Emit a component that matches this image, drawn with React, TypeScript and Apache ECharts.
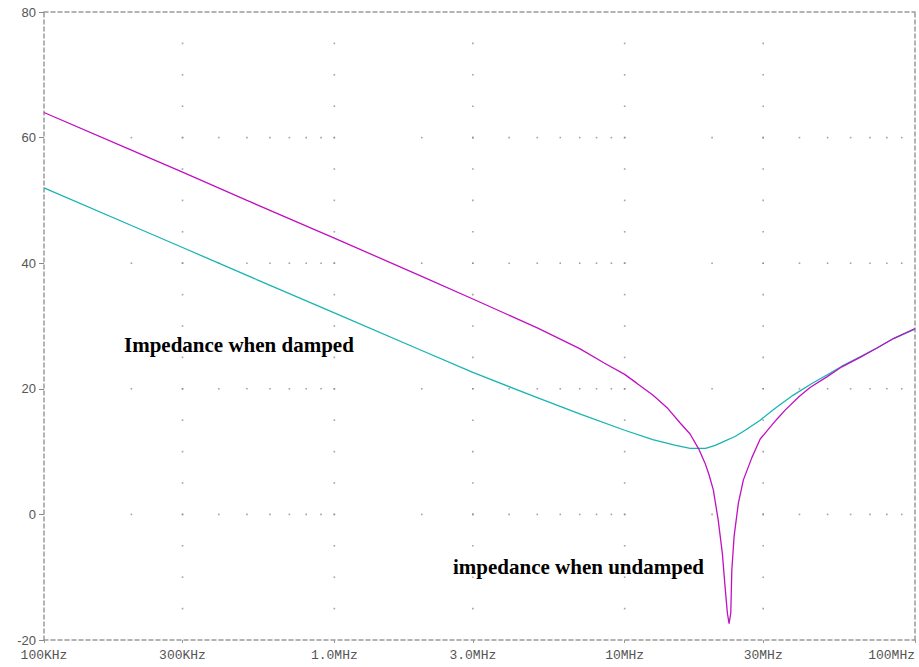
import React, { useEffect, useRef } from "react";
import * as echarts from "echarts";

// Axis ticks
const freqTicks = [1e5, 3e5, 1e6, 3e6, 1e7, 3e7, 1e8];
const freqTickLabels = ["100KHz", "300KHz", "1.0MHz", "3.0MHz", "10MHz", "30MHz", "100MHz"];
const yMin = -20;
const yMax = 80;
const yInterval = 20;

// Grid dot structure
const gridRowLevels = [0, 20, 40, 60];
const gridColFreqs = [3e5, 1e6, 3e6, 1e7, 3e7];
const gridColStep = 5;
const decades = [1e5, 1e6, 1e7];
const minorMultipliers = [2, 3, 4, 5, 6, 7, 8, 9, 10];

// Undamped impedance (dB) vs frequency (Hz)
const undampedFreq = [
  1e5, 2e5, 3e5, 5e5, 1e6, 2e6, 3e6, 5e6, 7e6, 8.5e6, 1e7, 1.1e7, 1.25e7, 1.4e7,
  1.55e7, 1.68e7, 1.8e7, 1.89e7, 1.95e7, 2.02e7, 2.1e7, 2.17e7, 2.217e7, 2.258e7,
  2.289e7, 2.32e7, 2.339e7, 2.382e7, 2.464e7, 2.564e7, 2.74e7, 2.84e7, 2.93e7,
  3.17e7, 3.35e7, 3.57e7, 4.0e7, 4.35e7, 4.97e7, 5.6e7, 6.47e7, 7.4e7, 8.43e7, 1e8,
];
const undampedDb = [
  64.0, 58.0, 54.5, 50.0, 44.0, 37.9, 34.3, 29.7, 26.4, 24.1, 22.3, 20.9, 19.0, 17.0,
  14.6, 12.8, 10.4, 8.2, 6.4, 3.9, -0.9, -6.2, -11.5, -15.7,
  -17.4, -15.7, -8.9, -3.5, 1.8, 5.5, 9.0, 10.6, 12.0,
  13.9, 15.2, 16.6, 18.8, 20.2, 21.9, 23.5, 25.0, 26.5, 28.0, 29.6,
];

// Damped impedance (dB) vs frequency (Hz)
const dampedFreq = [
  1e5, 2e5, 3e5, 5.4e5, 1e6, 2e6, 3e6, 5e6, 7e6, 1e7, 1.25e7, 1.5e7, 1.68e7,
  1.9e7, 2.05e7, 2.19e7, 2.4e7, 2.6e7, 2.93e7, 3.3e7, 3.81e7, 4.4e7, 4.97e7,
  5.6e7, 6.47e7, 7.4e7, 8.43e7, 1e8,
];
const dampedDb = [
  52.0, 46.0, 42.5, 37.4, 32.1, 26.1, 22.6, 18.6, 16.0, 13.4, 11.9, 11.0, 10.5,
  10.5, 11.0, 11.6, 12.4, 13.4, 15.0, 16.9, 19.0, 20.8, 22.2,
  23.6, 25.1, 26.5, 28.0, 29.5,
];

const W = 919;
const H = 667;
const borderColor = "#9a9a9a";
const dash = [4, 3];

export default function App() {
  const ref = useRef<HTMLDivElement>(null);

  useEffect(() => {
    if (!ref.current) return;
    const chart = echarts.init(ref.current, undefined, { renderer: "svg" });

    const lg = (f: number) => Math.log10(f);
    const tickVals = freqTicks.map(lg);

    const dots: number[][] = [];
    gridRowLevels.forEach((lvl) => {
      decades.forEach((d) => {
        minorMultipliers.forEach((m) => {
          const f = d * m;
          if (f < 1e8) dots.push([lg(f), lvl]);
        });
      });
    });
    gridColFreqs.forEach((f) => {
      for (let v = yMin + gridColStep; v < yMax; v += gridColStep) {
        dots.push([lg(f), v]);
      }
    });

    const borderLine = {
      show: true,
      onZero: false,
      lineStyle: { color: borderColor, width: 1.5, type: dash },
    };

    const option: any = {
      animation: false,
      backgroundColor: "#ffffff",
      grid: { left: 44, right: 4, top: 12, bottom: 27, containLabel: false },
      xAxis: [
        {
          type: "value",
          min: 5,
          max: 8,
          position: "bottom",
          axisLine: borderLine,
          axisTick: {
            show: true,
            length: 3,
            customValues: tickVals,
            lineStyle: { color: borderColor, width: 1 },
          },
          axisLabel: {
            customValues: tickVals,
            margin: 9,
            fontFamily: "Liberation Mono",
            fontSize: 13,
            color: "#555555",
            alignMaxLabel: "right",
            formatter: (v: number) => {
              const i = tickVals.findIndex((t) => Math.abs(t - v) < 1e-6);
              return i >= 0 ? freqTickLabels[i] : "";
            },
          },
          splitLine: { show: false },
        },
        {
          type: "value",
          min: 5,
          max: 8,
          position: "top",
          axisLine: borderLine,
          axisTick: { show: false },
          axisLabel: { show: false },
          splitLine: { show: false },
        },
      ],
      yAxis: [
        {
          type: "value",
          min: yMin,
          max: yMax,
          interval: yInterval,
          position: "left",
          axisLine: borderLine,
          axisTick: { show: true, length: 5, lineStyle: { color: "#888888", width: 1 } },
          axisLabel: {
            margin: 8,
            fontFamily: "Liberation Sans",
            fontSize: 13,
            color: "#555555",
          },
          splitLine: { show: false },
        },
        {
          type: "value",
          min: yMin,
          max: yMax,
          interval: yInterval,
          position: "right",
          axisLine: borderLine,
          axisTick: { show: false },
          axisLabel: { show: false },
          splitLine: { show: false },
        },
      ],
      series: [
        {
          type: "scatter",
          silent: true,
          symbol: "rect",
          symbolSize: 1.6,
          itemStyle: { color: "#8c8c8c" },
          data: dots,
          z: 1,
        },
        {
          name: "damped",
          type: "line",
          showSymbol: false,
          smooth: false,
          lineStyle: { color: "#18b4b4", width: 1.3 },
          data: dampedFreq.map((f, i) => [lg(f), dampedDb[i]]),
          z: 3,
        },
        {
          name: "undamped",
          type: "line",
          showSymbol: false,
          smooth: false,
          lineStyle: { color: "#c010c0", width: 1.3 },
          data: undampedFreq.map((f, i) => [lg(f), undampedDb[i]]),
          z: 4,
        },
      ],
      graphic: [
        {
          type: "text",
          left: 124,
          top: 334,
          style: {
            text: "Impedance when damped",
            font: "bold 21px 'Liberation Serif'",
            fill: "#000000",
          },
        },
        {
          type: "text",
          left: 453,
          top: 556,
          style: {
            text: "impedance when undamped",
            font: "bold 21px 'Liberation Serif'",
            fill: "#000000",
          },
        },
      ],
    };

    chart.setOption(option);
    return () => chart.dispose();
  }, []);

  return (
    <div
      ref={ref}
      style={{ position: "absolute", left: 0, top: 0, width: W, height: H, background: "#fff" }}
    />
  );
}
